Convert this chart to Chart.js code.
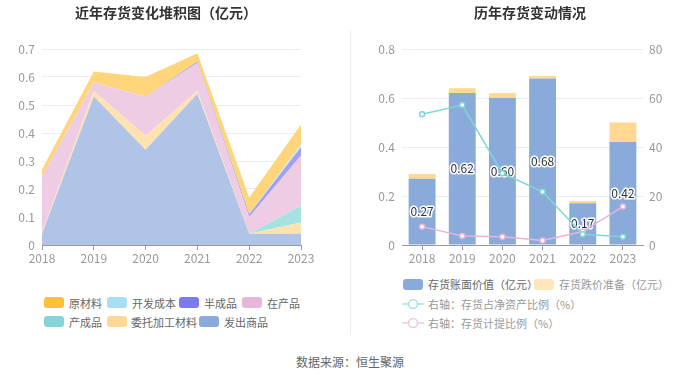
<!DOCTYPE html>
<html><head><meta charset="utf-8">
<script src="https://cdn.jsdelivr.net/npm/chart.js@4/dist/chart.umd.min.js"></script>
<style>
html,body{margin:0;padding:0;background:#fff;width:700px;height:377px;overflow:hidden;font-family:"Noto Sans CJK SC","Noto Sans",sans-serif;}
#wrap{position:relative;width:700px;height:377px;}
canvas{position:absolute;top:0;}
.title{position:absolute;top:3px;font-size:14px;font-weight:bold;color:#333;white-space:nowrap;transform:translateX(-50%);line-height:18px;}
.divider{position:absolute;left:350px;top:30px;width:1px;height:305px;background:#eeeeee;}
.lg{position:absolute;font-size:11px;color:#666;white-space:nowrap;line-height:14px;}
.box{position:absolute;width:20px;height:11px;border-radius:3px;}
.src{position:absolute;left:350px;top:353px;transform:translateX(-50%);font-size:12px;color:#666;white-space:nowrap;}
</style></head>
<body><div id="wrap">
<canvas id="c1" width="350" height="268" style="left:0"></canvas>
<canvas id="c2" width="350" height="268" style="left:350px"></canvas>
<div class="title" style="left:166px">近年存货变化堆积图（亿元）</div>
<div class="title" style="left:530px">历年存货变动情况</div>
<div class="divider"></div>
<div id="legend1"></div>
<div id="legend2"></div>
<div class="src">数据来源：恒生聚源</div>
</div>
<script>
// ---- data ----
const years = ['2018','2019','2020','2021','2022','2023'];
// left stacked area (亿元)
const faChuShangPin   = [0.04, 0.53, 0.34, 0.54, 0.04, 0.04]; // 发出商品
const weiTuoJiaGong   = [0.005,0.02, 0.05, 0.01, 0.00, 0.04]; // 委托加工材料
const chanChengPin    = [0.00, 0.00, 0.00, 0.00, 0.00, 0.06]; // 产成品
const zaiChanPin      = [0.20, 0.03, 0.14, 0.10, 0.06, 0.18]; // 在产品
const banChengPin     = [0.00, 0.00, 0.00, 0.005,0.01, 0.03]; // 半成品
const kaiFaChengBen   = [0.00, 0.00, 0.00, 0.00, 0.00, 0.01]; // 开发成本
const yuanCaiLiao     = [0.025,0.04, 0.07, 0.03, 0.06, 0.07]; // 原材料
// right chart
const bookValue       = [0.27, 0.62, 0.60, 0.68, 0.17, 0.42]; // 存货账面价值（亿元）
const impairment      = [0.02, 0.02, 0.02, 0.01, 0.01, 0.08]; // 存货跌价准备（亿元）
const ratioNetAssets  = [53.4, 57.1, 29.3, 21.7, 4.4, 3.4];   // 存货占净资产比例（%）
const ratioProvision  = [7.5, 3.7, 3.4, 1.8, 5.5, 15.7];      // 存货计提比例（%）
const leftTicks  = [0, 0.1, 0.2, 0.3, 0.4, 0.5, 0.6, 0.7];
const rightTicksL = [0, 0.2, 0.4, 0.6, 0.8];
const rightTicksR = [0, 20, 40, 60, 80];

const FONT = "'Noto Sans CJK SC','Noto Sans',sans-serif";
Chart.defaults.font.family = FONT;
Chart.defaults.font.size = 12;
Chart.defaults.color = '#999';

// ---- left chart ----
const areaDefs = [
  {label:'发出商品', data:faChuShangPin, fill:'#AFC4E6', leg:'#8AAADB'},
  {label:'委托加工材料', data:weiTuoJiaGong, fill:'#FFE2B0', leg:'#FFD898'},
  {label:'产成品', data:chanChengPin, fill:'#A6E2E2', leg:'#85D5D8'},
  {label:'在产品', data:zaiChanPin, fill:'#EECDE4', leg:'#E8B6D9'},
  {label:'半成品', data:banChengPin, fill:'#A0A0F4', leg:'#7B7BEE'},
  {label:'开发成本', data:kaiFaChengBen, fill:'#C3E8FA', leg:'#A8DDF8'},
  {label:'原材料', data:yuanCaiLiao, fill:'#FFD57C', leg:'#FDC13C'}
];
new Chart(document.getElementById('c1'), {
  type:'line',
  data:{labels:years, datasets:areaDefs.map((d,i)=>({
    label:d.label, data:d.data, backgroundColor:d.fill, borderColor:d.fill,
    borderWidth:0, pointRadius:0, fill: i===0 ? 'origin' : '-1', tension:0
  }))},
  options:{
    responsive:false, animation:false,
    layout:{padding:{top:49,right:49,left:0,bottom:0}},
    plugins:{legend:{display:false}, tooltip:{enabled:false}},
    scales:{
      x:{offset:false, grid:{display:true, drawOnChartArea:false, drawTicks:true, tickLength:5, color:'#999'},
         border:{display:true,color:'#999'},
         ticks:{padding:1, color:'#999', font:{size:12}, maxRotation:0},
         afterFit:(s)=>{s.height=23;}},
      y:{stacked:true, min:0, max:0.7,
         afterBuildTicks:(s)=>{s.ticks=leftTicks.map(v=>({value:v}));},
         grid:{color:'#E9EEF6', drawTicks:false}, border:{display:false},
         ticks:{padding:7, color:'#999', font:{size:12}, callback:(v)=>String(+v.toFixed(1))},
         afterFit:(s)=>{s.width=42;}}
    }
  }
});

// ---- right chart ----
const labelPlugin = {
  id:'barLabels',
  afterDatasetDraw(chart, args){
    if(args.index!==0) return;
    const ctx=chart.ctx; const meta=args.meta;
    ctx.save();
    ctx.font = "12px "+FONT;
    ctx.textAlign='center'; ctx.textBaseline='middle';
    ctx.lineJoin='round';
    meta.data.forEach((el,i)=>{
      const p = el.getProps(['x','y','base'],true);
      const y=(p.y+p.base)/2;
      const t=bookValue[i].toFixed(2);
      ctx.strokeStyle='#fff'; ctx.lineWidth=3; ctx.strokeText(t,p.x,y);
      ctx.fillStyle='#333'; ctx.fillText(t,p.x,y);
    });
    ctx.restore();
  }
};
new Chart(document.getElementById('c2'), {
  type:'bar',
  data:{labels:years, datasets:[
    {label:'存货账面价值（亿元）', data:bookValue, backgroundColor:'#8AABDA', stack:'s', yAxisID:'y', order:1, barPercentage:0.67, categoryPercentage:1},
    {label:'存货跌价准备（亿元）', data:impairment, backgroundColor:'#FFD993', stack:'s', yAxisID:'y', order:1, barPercentage:0.67, categoryPercentage:1},
    {type:'line', label:'右轴：存货占净资产比例（%）', data:ratioNetAssets, yAxisID:'y1', borderColor:'#7FD6D8', backgroundColor:'#fff', borderWidth:1.5, pointRadius:2.5, pointBorderWidth:1.5, pointBackgroundColor:'#fff', pointBorderColor:'#7FD6D8', order:0, tension:0},
    {type:'line', label:'右轴：存货计提比例（%）', data:ratioProvision, yAxisID:'y1', borderColor:'#E8B5D9', backgroundColor:'#fff', borderWidth:1.5, pointRadius:2.5, pointBorderWidth:1.5, pointBackgroundColor:'#fff', pointBorderColor:'#E8B5D9', order:0, tension:0}
  ]},
  options:{
    responsive:false, animation:false,
    layout:{padding:{top:49,right:0,left:0,bottom:0}},
    plugins:{legend:{display:false}, tooltip:{enabled:false}},
    scales:{
      x:{stacked:true, offset:true, grid:{display:true, offset:false, drawOnChartArea:false, drawTicks:true, tickLength:5, color:'#999'},
         border:{display:true,color:'#999'},
         ticks:{padding:1, color:'#999', font:{size:12}, maxRotation:0},
         afterFit:(s)=>{s.height=23;}},
      y:{stacked:true, position:'left', min:0, max:0.8,
         afterBuildTicks:(s)=>{s.ticks=rightTicksL.map(v=>({value:v}));},
         grid:{color:'#E9EEF6', drawTicks:false}, border:{display:false},
         ticks:{padding:7, color:'#999', font:{size:12}, callback:(v)=>String(+v.toFixed(1))},
         afterFit:(s)=>{s.width=52;}},
      y1:{position:'right', min:0, max:80, stacked:false,
         afterBuildTicks:(s)=>{s.ticks=rightTicksR.map(v=>({value:v}));},
         grid:{display:false, drawTicks:false}, border:{display:false},
         ticks:{padding:6, color:'#999', font:{size:12}},
         afterFit:(s)=>{s.width=57;}}
    }
  },
  plugins:[labelPlugin]
});

// ---- legends (HTML) ----
function addBox(parent, x, y, color, text, tx, tcolor){
  const b=document.createElement('div'); b.className='box';
  b.style.left=x+'px'; b.style.top=(y-5.5)+'px'; b.style.background=color; parent.appendChild(b);
  const t=document.createElement('div'); t.className='lg'; t.textContent=text;
  t.style.left=tx+'px'; t.style.top=(y-7)+'px'; if(tcolor) t.style.color=tcolor; parent.appendChild(t);
}
function addLineIcon(parent, x, y, color, text, tx, tcolor){
  const svgNS='http://www.w3.org/2000/svg';
  const s=document.createElementNS(svgNS,'svg');
  s.setAttribute('width','22'); s.setAttribute('height','12');
  s.style.position='absolute'; s.style.left=x+'px'; s.style.top=(y-6)+'px';
  s.innerHTML='<line x1="0" y1="6" x2="22" y2="6" stroke="'+color+'" stroke-width="1.5"/><circle cx="11" cy="6" r="4.5" fill="#fff" stroke="'+color+'" stroke-width="1.5"/>';
  parent.appendChild(s);
  const t=document.createElement('div'); t.className='lg'; t.textContent=text;
  t.style.left=tx+'px'; t.style.top=(y-7)+'px'; if(tcolor) t.style.color=tcolor; parent.appendChild(t);
}
const L1=document.getElementById('legend1');
const leg = Object.fromEntries(areaDefs.map(d=>[d.label,d.leg]));
addBox(L1,44,302.5,leg['原材料'],'原材料',69);
addBox(L1,107,302.5,leg['开发成本'],'开发成本',132);
addBox(L1,179,302.5,leg['半成品'],'半成品',204);
addBox(L1,242,302.5,leg['在产品'],'在产品',267);
addBox(L1,44,321.5,leg['产成品'],'产成品',69);
addBox(L1,107,321.5,leg['委托加工材料'],'委托加工材料',131);
addBox(L1,199,321.5,leg['发出商品'],'发出商品',224);
const L2=document.getElementById('legend2');
addBox(L2,403,284,'#8AABDA','存货账面价值（亿元）',428,'#666');
addBox(L2,534,284,'#FFE6BC','存货跌价准备（亿元）',559,'#999');
addLineIcon(L2,402,303.5,'#A8E3E6','右轴：存货占净资产比例（%）',428,'#999');
addLineIcon(L2,402,322.5,'#F0C8E2','右轴：存货计提比例（%）',428,'#999');
</script>
</body></html>
